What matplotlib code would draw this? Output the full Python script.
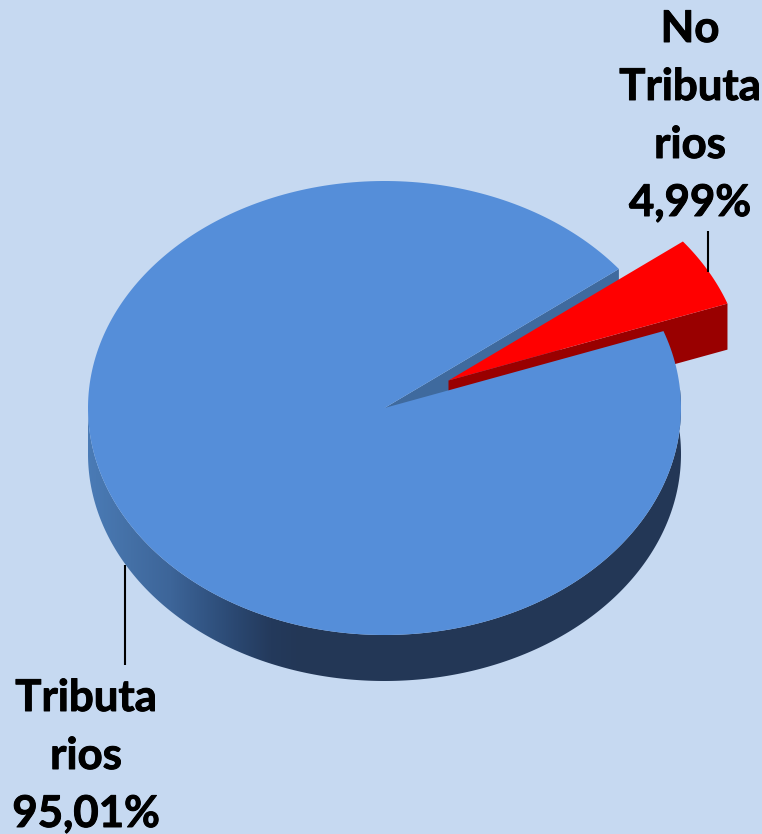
import matplotlib.pyplot as plt
import matplotlib.patheffects as pe
import numpy as np
from matplotlib.patches import Polygon

categories = ['Tributarios', 'No Tributarios']
shares = [95.01, 4.99]
label_lines = [['Tributa', 'rios'], ['No', 'Tributa', 'rios']]

plt.rcParams['font.family'] = ['Lato', 'DejaVu Sans']

BG = '#C6D9F1'
BLUE = '#558ED9'
BLUE_CUT = '#3F6A9E'
RED = '#FF0000'
RED_DARK = '#990000'

# pie geometry in image pixels
cx, cy = 384.5, 408
rx, ry = 296.5, 227
depth = 46
explode = (64, -27.5)
red_start = 19.8


def rim(t0, t1, dx=0, dy=0, n=300):
    t = np.radians(np.linspace(t0, t1, n))
    return np.column_stack([cx + dx + rx * np.cos(t), cy + dy - ry * np.sin(t)])


fig = plt.figure(figsize=(7.62, 8.34), dpi=100, facecolor=BG)
ax = fig.add_axes([0, 0, 1, 1])
ax.set_xlim(0, 762)
ax.set_ylim(834, 0)
ax.axis('off')

red_end = red_start + shares[1] / sum(shares) * 360
centre = np.array([[cx, cy]])
low = np.array([0, depth])
off = np.array(explode)

# outer wall of the big slice, shaded from left to right
wall = np.vstack([rim(180, 360 + red_start), rim(180, 360 + red_start)[::-1] + low])
stops_x = [88, 130, 170, 203, 237, 270, 300, 762]
stops_rgb = np.array([[0x4A, 0x7B, 0xB6], [0x44, 0x70, 0xA6], [0x3D, 0x65, 0x99], [0x33, 0x56, 0x85],
                      [0x2A, 0x47, 0x70], [0x24, 0x3A, 0x5C], [0x23, 0x37, 0x56], [0x23, 0x37, 0x56]]) / 255
xs = np.arange(80, 700)
grad = np.stack([np.interp(xs, stops_x, stops_rgb[:, i]) for i in range(3)], axis=-1)[None, :, :]
im = ax.imshow(grad, extent=(80, 700, 700, 390), aspect='auto', zorder=1)
clip = Polygon(wall, closed=True, transform=ax.transData, fc='none', ec='none')
ax.add_patch(clip)
im.set_clip_path(clip)
ax.set_xlim(0, 762)
ax.set_ylim(834, 0)

# cut face at the start of the gap
p = rim(red_end, red_end, n=1)[0]
ax.add_patch(Polygon([(cx, cy), p, p + low, (cx, cy + depth)], fc=BLUE_CUT, ec='none', zorder=2))

# red slice, pulled out
p = rim(red_start, red_start, dx=off[0], dy=off[1], n=1)[0]
apex = centre[0] + off
ax.add_patch(Polygon([apex, p, p + low, apex + low], fc=RED_DARK, ec='none', zorder=3))

# top faces
blue_top = np.vstack([centre, rim(red_end, 360 + red_start)])
ax.add_patch(Polygon(blue_top, fc=BLUE, ec='none', zorder=4))
red_top = np.vstack([[apex], rim(red_start, red_end, dx=off[0], dy=off[1])])
ax.add_patch(Polygon(red_top, fc=RED, ec='none', zorder=5))

# leader lines
ax.plot([125, 125], [565, 665], color='black', lw=1.5, zorder=6, solid_capstyle='butt')
ax.plot([708, 708], [231, 272], color='black', lw=1.5, zorder=6, solid_capstyle='butt')

# labels
positions = [(86, 711), (690, 42)]
for lines, share, (x, y0) in zip(label_lines, shares, positions):
    all_lines = lines + [f'{share:.2f}%'.replace('.', ',')]
    for i, s in enumerate(all_lines):
        ax.text(x, y0 + i * 58, s, ha='center', va='baseline', fontsize=31.5,
                fontweight='bold', color='black', zorder=7,
                path_effects=[pe.withStroke(linewidth=0.7, foreground='black')])

fig.savefig('out.png', dpi=100, facecolor=BG)
